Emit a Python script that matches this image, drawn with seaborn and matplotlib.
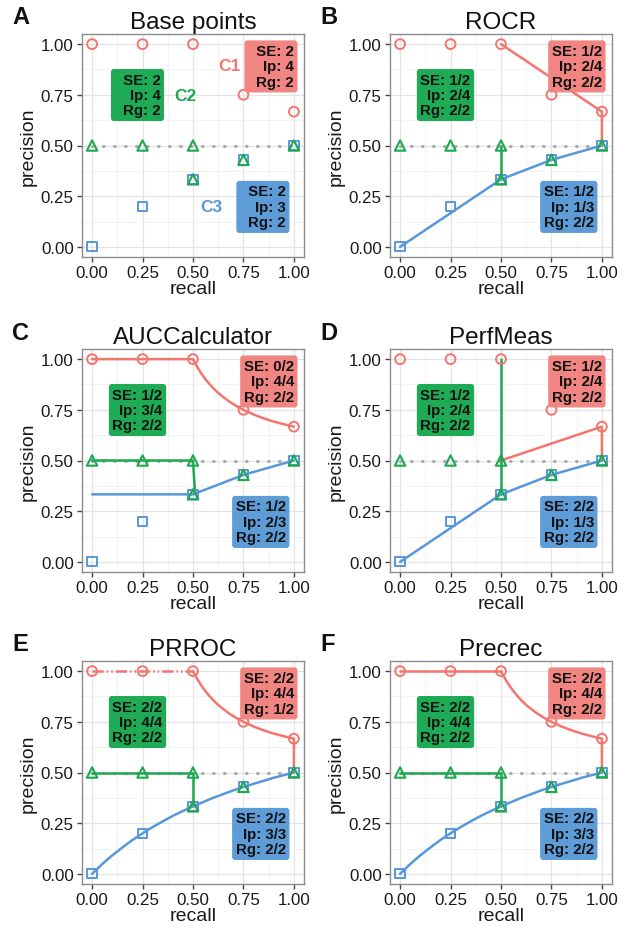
import numpy as np
import matplotlib
matplotlib.use('Agg')
import matplotlib.pyplot as plt
import seaborn as sns

# ============================================================
# Data
# ============================================================
TITLES = ['Base points', 'ROCR', 'AUCCalculator', 'PerfMeas', 'PRROC', 'Precrec']
LETTERS = ['A', 'B', 'C', 'D', 'E', 'F']

# base points
C1_RECALL = [0.0, 0.25, 0.5, 0.75, 1.0]
C1_PREC = [1.0, 1.0, 1.0, 0.75, 0.667]
C2_RECALL = [0.0, 0.25, 0.5, 0.5, 0.75, 1.0]
C2_PREC = [0.5, 0.5, 0.5, 0.333, 0.429, 0.5]
C3_RECALL = [0.0, 0.25, 0.5, 0.75, 1.0]
C3_PREC = [0.0, 0.2, 0.333, 0.429, 0.5]

# ROCR
ROCR_C1_X = [0.5, 1.0, 1.0]
ROCR_C1_Y = [1.0, 0.667, 0.5]
ROCR_C2_X = [0.5, 0.5]
ROCR_C2_Y = [0.5, 0.333]
ROCR_C3_X = [0.0, 0.5, 0.75, 1.0]
ROCR_C3_Y = [0.0, 0.333, 0.429, 0.5]

# shared red curve from recall 0.5 down to recall 1.0
CURVE_C1_X = [0.5, 0.52, 0.54, 0.56, 0.58, 0.6, 0.625, 0.65, 0.675, 0.7, 0.725, 0.75,
              0.8, 0.85, 0.9, 0.95, 1.0]
CURVE_C1_Y = [1.0, 0.963, 0.931, 0.903, 0.879, 0.857, 0.833, 0.813, 0.794, 0.778, 0.763, 0.75,
              0.727, 0.708, 0.692, 0.679, 0.667]

# AUCCalculator
AUC_C1_X = [0.0, 0.25] + CURVE_C1_X
AUC_C1_Y = [1.0, 1.0] + CURVE_C1_Y
AUC_C2_X = [0.0, 0.25, 0.5, 0.51]
AUC_C2_Y = [0.5, 0.5, 0.5, 0.34]
AUC_C3_X = [0.0, 0.5, 0.75, 1.0]
AUC_C3_Y = [0.333, 0.333, 0.429, 0.5]

# PerfMeas
PM_C1_X = [0.5, 1.0, 1.0]
PM_C1_Y = [0.5, 0.667, 0.5]
PM_C2_X = [0.5, 0.5]
PM_C2_Y = [1.0, 0.333]
PM_C3_X = [0.0, 0.5, 0.75, 1.0]
PM_C3_Y = [0.0, 0.333, 0.429, 0.5]

# PRROC / Precrec (shared curves)
FLAT_C1_X = [0.0, 0.25, 0.5]
FLAT_C1_Y = [1.0, 1.0, 1.0]
DROP_C1_X = CURVE_C1_X + [1.0]
DROP_C1_Y = CURVE_C1_Y + [0.5]
STEP_C2_X = [0.0, 0.25, 0.5, 0.5]
STEP_C2_Y = [0.5, 0.5, 0.5, 0.333]
CURVE_C3_X = [0.0, 0.025, 0.05, 0.075, 0.1, 0.15, 0.2, 0.25, 0.3, 0.35, 0.4, 0.45, 0.5,
              0.6, 0.7, 0.75, 0.8, 0.9, 1.0]
CURVE_C3_Y = [0.0, 0.024, 0.048, 0.07, 0.091, 0.13, 0.167, 0.2, 0.231, 0.259, 0.286, 0.31, 0.333,
              0.375, 0.412, 0.429, 0.444, 0.474, 0.5]

# SE / Ip / Rg scores per panel
RED_SCORES = [['2', '4', '2'], ['1/2', '2/4', '2/2'], ['0/2', '4/4', '2/2'],
              ['1/2', '2/4', '2/2'], ['2/2', '4/4', '1/2'], ['2/2', '4/4', '2/2']]
GREEN_SCORES = [['2', '4', '2'], ['1/2', '2/4', '2/2'], ['1/2', '3/4', '2/2'],
                ['1/2', '2/4', '2/2'], ['2/2', '4/4', '2/2'], ['2/2', '4/4', '2/2']]
BLUE_SCORES = [['2', '3', '2'], ['1/2', '1/3', '2/2'], ['1/2', '2/3', '2/2'],
               ['2/2', '1/3', '2/2'], ['2/2', '3/3', '2/2'], ['2/2', '3/3', '2/2']]

# ============================================================
# Style
# ============================================================
RED = '#F2766F'
GREEN = '#1DA851'
BLUE = '#5797DA'
RED_BOX = '#F08582'
GREEN_BOX = '#1FAA55'
BLUE_BOX = '#5E9CD8'

sns.set_theme(style='whitegrid')
plt.rcParams['font.family'] = ['Liberation Sans', 'DejaVu Sans']

SOLID = '-'
PRROC_DASH = (0, (4.5, 1.2, 0.6, 1.2, 0.6, 1.2))

# per panel: list of (x, y, color, linestyle)
PANEL_LINES = [
    [],
    [(ROCR_C1_X, ROCR_C1_Y, RED, SOLID), (ROCR_C2_X, ROCR_C2_Y, GREEN, SOLID),
     (ROCR_C3_X, ROCR_C3_Y, BLUE, SOLID)],
    [(AUC_C1_X, AUC_C1_Y, RED, SOLID), (AUC_C2_X, AUC_C2_Y, GREEN, SOLID),
     (AUC_C3_X, AUC_C3_Y, BLUE, SOLID)],
    [(PM_C1_X, PM_C1_Y, RED, SOLID), (PM_C2_X, PM_C2_Y, GREEN, SOLID),
     (PM_C3_X, PM_C3_Y, BLUE, SOLID)],
    [(FLAT_C1_X, FLAT_C1_Y, RED, PRROC_DASH), (DROP_C1_X, DROP_C1_Y, RED, SOLID),
     (STEP_C2_X, STEP_C2_Y, GREEN, SOLID), (CURVE_C3_X, CURVE_C3_Y, BLUE, SOLID)],
    [(FLAT_C1_X, FLAT_C1_Y, RED, SOLID), (DROP_C1_X, DROP_C1_Y, RED, SOLID),
     (STEP_C2_X, STEP_C2_Y, GREEN, SOLID), (CURVE_C3_X, CURVE_C3_Y, BLUE, SOLID)],
]

W, H = 637, 929
COL_LEFT = [82 / W, 390 / W]
ROW_BOTTOM = [1 - 258 / H, 1 - 573 / H, 1 - 885 / H]
AX_W = 222 / W
AX_H = 223 / H

fig = plt.figure(figsize=(W / 100, H / 100), dpi=100)


def score_text(s, lead=''):
    return f'{lead}SE: {s[0]}\nIp: {s[1]}\nRg: {s[2]}'


ticks = [0.0, 0.25, 0.5, 0.75, 1.0]
tick_labels = ['0.00', '0.25', '0.50', '0.75', '1.00']

for i in range(6):
    row, col = i // 2, i % 2
    ax = fig.add_axes([COL_LEFT[col], ROW_BOTTOM[row], AX_W, AX_H])

    # baseline
    ax.plot([0, 1], [0.5, 0.5], color='#A8A8A8', lw=2.2,
            linestyle=(0, (0.2, 3.4)), dash_capstyle='round', zorder=1)

    for xs, ys, c, ls in PANEL_LINES[i]:
        sns.lineplot(x=xs, y=ys, sort=False, estimator=None, color=c,
                     lw=1.8, linestyle=ls, ax=ax, zorder=2)

    sns.scatterplot(x=C1_RECALL, y=C1_PREC, marker='o', s=50, facecolor='none',
                    edgecolor=RED, linewidth=1.4, ax=ax, zorder=3)
    sns.scatterplot(x=C3_RECALL, y=C3_PREC, marker='s', s=44, facecolor='none',
                    edgecolor=BLUE, linewidth=1.4, ax=ax, zorder=3)
    sns.scatterplot(x=C2_RECALL, y=C2_PREC, marker='^', s=56, facecolor='none',
                    edgecolor=GREEN, linewidth=1.5, ax=ax, zorder=4)

    lead = '  ' if i == 0 else ''
    box_kw = dict(fontsize=10.8, fontweight='bold', color='#111111', linespacing=1.13,
                  va='center', multialignment='right', zorder=6)
    ax.text(1.0, 0.89, score_text(RED_SCORES[i], lead), ha='right',
            bbox=dict(boxstyle='round,pad=0.24,rounding_size=0.2', fc=RED_BOX, ec='none'),
            **box_kw)
    ax.text(0.225, 0.749, score_text(GREEN_SCORES[i], lead), ha='center',
            bbox=dict(boxstyle='round,pad=0.24,rounding_size=0.2', fc=GREEN_BOX, ec='none'),
            **box_kw)
    ax.text(0.96, 0.197, score_text(BLUE_SCORES[i], lead), ha='right',
            bbox=dict(boxstyle='round,pad=0.24,rounding_size=0.2', fc=BLUE_BOX, ec='none'),
            **box_kw)

    if i == 0:
        ax.text(0.68, 0.895, 'C1', color=RED, fontsize=12.5, fontweight='bold',
                ha='center', va='center')
        ax.text(0.46, 0.746, 'C2', color=GREEN, fontsize=12.5, fontweight='bold',
                ha='center', va='center')
        ax.text(0.59, 0.199, 'C3', color=BLUE, fontsize=12.5, fontweight='bold',
                ha='center', va='center')

    ax.set_xlim(-0.05, 1.05)
    ax.set_ylim(-0.05, 1.05)
    ax.set_xticks(ticks)
    ax.set_xticklabels(tick_labels)
    ax.set_yticks(ticks)
    ax.set_yticklabels(tick_labels)
    ax.set_xticks([0.125, 0.375, 0.625, 0.875], minor=True)
    ax.set_yticks([0.125, 0.375, 0.625, 0.875], minor=True)
    ax.grid(which='major', color='#E4E4E4', lw=0.9)
    ax.grid(which='minor', color='#F1F1F1', lw=0.6)
    ax.set_facecolor('white')
    ax.tick_params(which='major', length=3.5, width=1.0, color='#444444',
                   labelsize=12.2, labelcolor='#1A1A1A', pad=2.5)
    ax.tick_params(which='minor', length=0)
    ax.tick_params(left=True, bottom=True)
    for sp in ax.spines.values():
        sp.set_edgecolor('#8C8C8C')
        sp.set_linewidth(1.0)

    ax.set_xlabel('recall', fontsize=14, labelpad=0, color='#1A1A1A')
    ax.set_ylabel('precision', fontsize=14, labelpad=3, color='#1A1A1A')
    ax.set_title(TITLES[i], fontsize=17.5, pad=4, color='#111111')

    fig.text(COL_LEFT[col] - 70 / W, ROW_BOTTOM[row] + AX_H + 17 / H, LETTERS[i],
             fontsize=17, fontweight='bold', ha='left', va='center', color='#111111')

plt.savefig('out.png', dpi=100)
plt.close()
